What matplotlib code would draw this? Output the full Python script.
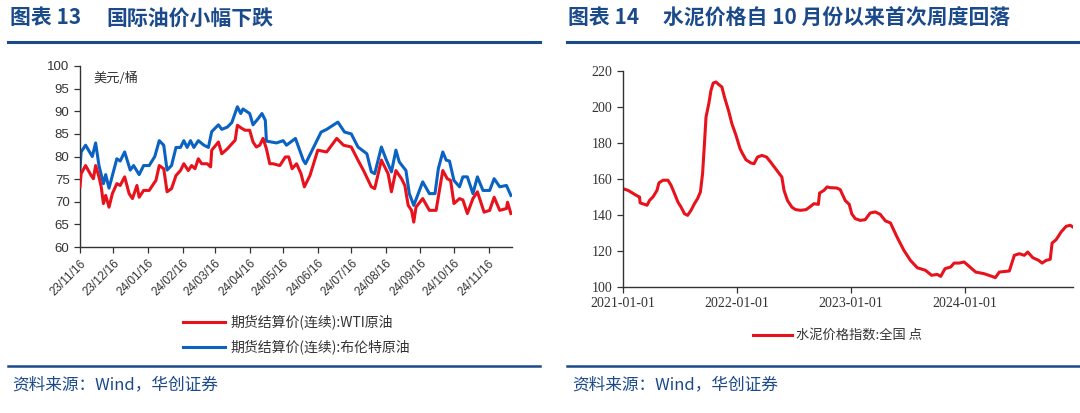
import numpy as np
import pandas as pd
import matplotlib
matplotlib.use("Agg")
import matplotlib.pyplot as plt
import matplotlib.dates as mdates
from matplotlib.lines import Line2D

plt.rcParams['font.family'] = ['Noto Sans CJK SC', 'DejaVu Sans']

# ── 国际油价 (美元/桶) ───────────────────────────────────────────
brent_dates = [
    '2023-11-16', '2023-11-17', '2023-11-21', '2023-11-27', '2023-11-30', '2023-12-03',
    '2023-12-07', '2023-12-09', '2023-12-12', '2023-12-19', '2023-12-22', '2023-12-26',
    '2023-12-31', '2024-01-03', '2024-01-08', '2024-01-12', '2024-01-17', '2024-01-22',
    '2024-01-26', '2024-01-30', '2024-02-02', '2024-02-06', '2024-02-10', '2024-02-14',
    '2024-02-17', '2024-02-20', '2024-02-23', '2024-02-26', '2024-03-01', '2024-03-06',
    '2024-03-10', '2024-03-13', '2024-03-19', '2024-03-22', '2024-03-27', '2024-03-31',
    '2024-04-05', '2024-04-08', '2024-04-10', '2024-04-16', '2024-04-19', '2024-04-24',
    '2024-04-27', '2024-04-30', '2024-05-01', '2024-05-10', '2024-05-16', '2024-05-19',
    '2024-05-27', '2024-06-03', '2024-06-05', '2024-06-19', '2024-06-24', '2024-07-04',
    '2024-07-10', '2024-07-16', '2024-07-22', '2024-07-30', '2024-08-03', '2024-08-06',
    '2024-08-12', '2024-08-16', '2024-08-21', '2024-08-25', '2024-08-28', '2024-09-03',
    '2024-09-06', '2024-09-10', '2024-09-14', '2024-09-18', '2024-09-24', '2024-09-29',
    '2024-10-02', '2024-10-06', '2024-10-09', '2024-10-12', '2024-10-16', '2024-10-21',
    '2024-10-24', '2024-10-28', '2024-11-02', '2024-11-06', '2024-11-11', '2024-11-17',
    '2024-11-21', '2024-11-26', '2024-12-02', '2024-12-06',
]
brent = [
    77.3, 81.0, 82.5, 80.0, 83.0, 78.0,
    74.0, 76.0, 73.0, 79.5, 79.0, 81.0,
    77.0, 78.0, 76.0, 78.0, 78.0, 80.0,
    83.5, 82.5, 77.0, 78.0, 82.0, 82.0,
    83.5, 82.0, 83.5, 82.0, 83.5, 82.5,
    82.0, 85.5, 87.0, 86.0, 86.5, 87.5,
    91.0, 89.5, 90.5, 89.5, 87.0, 88.5,
    89.5, 88.0, 83.4, 83.0, 83.5, 82.5,
    84.0, 79.2, 78.4, 85.4, 86.0, 87.6,
    85.4, 85.0, 82.1, 80.6, 76.6, 76.2,
    82.1, 79.5, 76.6, 81.4, 78.8, 76.9,
    71.8, 69.2, 71.8, 74.4, 71.8, 71.8,
    77.3, 81.0, 79.2, 79.0, 74.7, 73.3,
    75.5, 75.5, 71.8, 75.5, 72.5, 72.5,
    75.1, 73.3, 73.6, 71.4,
]

wti_dates = [
    '2023-11-16', '2023-11-17', '2023-11-21', '2023-11-26', '2023-11-28', '2023-11-30',
    '2023-12-03', '2023-12-05', '2023-12-07', '2023-12-09', '2023-12-12', '2023-12-15',
    '2023-12-19', '2023-12-22', '2023-12-26', '2023-12-30', '2024-01-02', '2024-01-06',
    '2024-01-08', '2024-01-12', '2024-01-17', '2024-01-21', '2024-01-23', '2024-01-26',
    '2024-01-30', '2024-02-02', '2024-02-06', '2024-02-10', '2024-02-14', '2024-02-17',
    '2024-02-21', '2024-02-24', '2024-02-27', '2024-03-01', '2024-03-04', '2024-03-09',
    '2024-03-12', '2024-03-13', '2024-03-19', '2024-03-22', '2024-03-27', '2024-03-31',
    '2024-04-03', '2024-04-05', '2024-04-09', '2024-04-12', '2024-04-16', '2024-04-19',
    '2024-04-22', '2024-04-25', '2024-04-28', '2024-05-01', '2024-05-04', '2024-05-07',
    '2024-05-13', '2024-05-18', '2024-05-21', '2024-05-24', '2024-05-28', '2024-06-01',
    '2024-06-04', '2024-06-09', '2024-06-16', '2024-06-24', '2024-07-03', '2024-07-09',
    '2024-07-16', '2024-07-22', '2024-07-27', '2024-08-03', '2024-08-06', '2024-08-12',
    '2024-08-18', '2024-08-21', '2024-08-25', '2024-08-30', '2024-09-02', '2024-09-05',
    '2024-09-08', '2024-09-10', '2024-09-12', '2024-09-18', '2024-09-24', '2024-09-30',
    '2024-10-04', '2024-10-06', '2024-10-10', '2024-10-13', '2024-10-16', '2024-10-21',
    '2024-10-24', '2024-10-28', '2024-11-02', '2024-11-06', '2024-11-12', '2024-11-17',
    '2024-11-21', '2024-11-26', '2024-12-02', '2024-12-03', '2024-12-06',
]
wti = [
    73.3, 76.2, 78.0, 75.8, 75.1, 78.0,
    75.5, 73.3, 69.6, 71.4, 68.8, 71.8,
    74.0, 73.6, 75.5, 71.8, 70.7, 73.6,
    71.0, 72.5, 72.5, 74.0, 74.7, 78.0,
    77.3, 72.2, 72.9, 75.8, 76.9, 78.4,
    76.9, 78.0, 77.3, 79.5, 78.4, 78.4,
    77.7, 81.4, 83.2, 80.6, 81.7, 82.8,
    83.6, 86.9, 86.2, 85.8, 85.8, 83.2,
    82.1, 82.5, 84.0, 81.7, 78.4, 78.4,
    78.0, 79.9, 79.9, 77.3, 78.4, 76.2,
    73.3, 75.8, 81.4, 81.0, 84.0, 82.5,
    82.1, 79.2, 76.9, 73.3, 72.9, 79.2,
    76.2, 72.2, 76.9, 75.1, 73.6, 69.2,
    68.1, 65.5, 68.8, 70.7, 68.1, 68.1,
    74.0, 76.9, 75.1, 74.7, 69.6, 70.7,
    70.4, 67.4, 70.7, 72.2, 67.7, 68.1,
    71.0, 68.1, 68.5, 69.9, 67.4,
]

# ── 水泥价格指数:全国 ─────────────────────────────────────────────
cement_dates = [
    '2021-01-01', '2021-01-17', '2021-02-07', '2021-02-18', '2021-02-23', '2021-02-25',
    '2021-03-11', '2021-03-19', '2021-03-27', '2021-04-07', '2021-04-20', '2021-04-26',
    '2021-05-09', '2021-05-25', '2021-06-04', '2021-06-15', '2021-06-26', '2021-07-06',
    '2021-07-17', '2021-07-27', '2021-08-07', '2021-08-18', '2021-08-28', '2021-09-06',
    '2021-09-13', '2021-09-19', '2021-09-24', '2021-10-03', '2021-10-10', '2021-10-17',
    '2021-10-26', '2021-11-03', '2021-11-14', '2021-11-22', '2021-12-05', '2021-12-16',
    '2021-12-29', '2022-01-11', '2022-01-19', '2022-01-30', '2022-02-15', '2022-02-25',
    '2022-03-08', '2022-03-22', '2022-04-06', '2022-04-19', '2022-05-05', '2022-05-25',
    '2022-06-01', '2022-06-12', '2022-06-26', '2022-07-08', '2022-07-24', '2022-08-11',
    '2022-08-25', '2022-09-05', '2022-09-19', '2022-09-23', '2022-10-07', '2022-10-17',
    '2022-10-26', '2022-11-17', '2022-11-28', '2022-12-14', '2022-12-27', '2023-01-04',
    '2023-01-15', '2023-01-31', '2023-02-16', '2023-03-04', '2023-03-20', '2023-04-05',
    '2023-04-22', '2023-05-08', '2023-05-29', '2023-06-20', '2023-07-11', '2023-08-02',
    '2023-08-28', '2023-09-17', '2023-10-05', '2023-10-16', '2023-10-30', '2023-11-17',
    '2023-11-28', '2023-12-14', '2023-12-30', '2024-01-15', '2024-02-05', '2024-03-03',
    '2024-03-25', '2024-04-08', '2024-04-21', '2024-05-23', '2024-06-08', '2024-06-24',
    '2024-07-10', '2024-07-21', '2024-08-06', '2024-08-25', '2024-09-05', '2024-09-18',
    '2024-10-01', '2024-10-07', '2024-10-20', '2024-11-05', '2024-11-21', '2024-12-04',
    '2024-12-13',
]
cement = [
    154.6, 153.7, 151.5, 150.4, 150.0, 146.7,
    145.9, 145.4, 148.1, 150.0, 153.7, 157.8,
    159.3, 159.3, 156.5, 151.9, 147.2, 144.4,
    140.7, 139.8, 142.6, 146.3, 149.1, 152.8,
    163.0, 179.6, 194.4, 201.9, 209.3, 213.3,
    213.9, 212.6, 211.1, 205.6, 198.1, 190.7,
    184.3, 176.9, 174.1, 170.7, 168.9, 168.5,
    172.2, 173.1, 172.2, 169.4, 165.7, 161.1,
    153.7, 148.1, 144.4, 143.0, 142.6, 143.0,
    144.8, 146.3, 145.9, 152.2, 153.7, 155.6,
    155.2, 155.0, 154.1, 148.1, 145.9, 140.7,
    138.0, 137.0, 137.4, 141.1, 141.7, 140.4,
    136.7, 135.6, 127.8, 120.4, 114.8, 110.7,
    109.3, 106.5, 107.0, 105.9, 110.2, 111.1,
    113.3, 113.3, 113.9, 111.5, 108.3, 107.4,
    106.1, 105.2, 108.3, 108.9, 117.6, 118.5,
    117.6, 119.4, 116.3, 114.8, 113.3, 114.8,
    115.4, 124.4, 126.3, 130.6, 133.7, 134.3,
    133.3,
]

oil_ticks = pd.date_range('2023-11-01', periods=13, freq='MS') + pd.Timedelta(days=15)
cement_ticks = pd.to_datetime(['2021-01-01', '2022-01-01', '2023-01-01', '2024-01-01'])

NAVY = '#1B4A8A'
RED = '#E8121C'
BLUE = '#0A62C2'
W, H = 1080, 413

fig = plt.figure(figsize=(W / 100, H / 100), dpi=100)


def fx(px):
    return px / W


def fy(py):
    return 1 - py / H


# ── headers / footers ──
for x_lab, lab, x_txt, txt in [(10, '图表 13', 106, '国际油价小幅下跌'),
                              (568, '图表 14', 663, '水泥价格自 10 月份以来首次周度回落')]:
    fig.text(fx(x_lab), fy(18), lab, fontsize=15, fontweight='bold',
             color=NAVY, va='center', ha='left')
    fig.text(fx(x_txt), fy(18), txt, fontsize=15, fontweight='bold',
             color=NAVY, va='center', ha='left')
for x0, x1 in [(8, 540), (567, 1080)]:
    fig.add_artist(Line2D([fx(x0), fx(x1)], [fy(42)] * 2, color=NAVY, lw=2.2))
    fig.add_artist(Line2D([fx(x0), fx(x1)], [fy(366)] * 2, color=NAVY, lw=1.8))
fig.text(fx(12), fy(385), '资料来源：Wind，华创证券', fontsize=12, style='italic',
         color=NAVY, va='center', ha='left')
fig.text(fx(572), fy(385), '资料来源：Wind，华创证券', fontsize=12, style='italic',
         color=NAVY, va='center', ha='left')

# ── left: oil ──
ax1 = fig.add_axes([fx(80), fy(247), fx(512 - 80), (247 - 66) / H])
ax1.plot(pd.to_datetime(wti_dates), wti, color=RED, lw=2.2, zorder=3)
ax1.plot(pd.to_datetime(brent_dates), brent, color=BLUE, lw=2.2, zorder=2)
ax1.set_ylim(60, 100)
ax1.set_yticks(np.arange(60, 101, 5))
ax1.set_xlim(pd.Timestamp('2023-11-16'), pd.Timestamp('2024-12-07'))
ax1.set_xticks(oil_ticks)
ax1.xaxis.set_major_formatter(mdates.DateFormatter('%y/%m/%d'))
for s in ['top', 'right']:
    ax1.spines[s].set_visible(False)
for s in ['left', 'bottom']:
    ax1.spines[s].set_color('#333333')
    ax1.spines[s].set_linewidth(1.0)
ax1.tick_params(axis='both', direction='out', length=4, width=0.9, color='#333333')
for lab in ax1.get_yticklabels():
    lab.set_fontfamily('Liberation Sans')
    lab.set_fontsize(9.5)
    lab.set_color('#333333')
for lab in ax1.get_xticklabels():
    lab.set_fontfamily('Liberation Sans')
    lab.set_fontsize(8.5)
    lab.set_rotation(45)
    lab.set_ha('right')
    lab.set_rotation_mode('anchor')
    lab.set_color('#333333')
ax1.text(0.03, 0.965, '美元/桶', transform=ax1.transAxes, fontsize=9.5,
         color='#333333', va='top', ha='left')

# legend (left)
for py, col, label in [(322, RED, '期货结算价(连续):WTI原油'),
                       (347, BLUE, '期货结算价(连续):布伦特原油')]:
    fig.add_artist(Line2D([fx(183), fx(225)], [fy(py)] * 2, color=col, lw=2.2))
    fig.text(fx(230), fy(py), label, fontsize=10, color='#333333', va='center', ha='left')

# ── right: cement ──
ax2 = fig.add_axes([fx(623), fy(287), fx(1073 - 623), (287 - 71) / H])
ax2.plot(pd.to_datetime(cement_dates), cement, color=RED, lw=2.2)
ax2.set_ylim(100, 220)
ax2.set_yticks(np.arange(100, 221, 20))
ax2.set_xlim(pd.Timestamp('2021-01-01'), pd.Timestamp('2024-12-13'))
ax2.set_xticks(cement_ticks)
ax2.xaxis.set_major_formatter(mdates.DateFormatter('%Y-%m-%d'))
for s in ['top', 'right']:
    ax2.spines[s].set_visible(False)
for s in ['left', 'bottom']:
    ax2.spines[s].set_color('#333333')
    ax2.spines[s].set_linewidth(1.0)
ax2.tick_params(axis='both', direction='out', length=4, width=0.9, color='#333333')
for lab in ax2.get_yticklabels() + ax2.get_xticklabels():
    lab.set_fontfamily('Liberation Serif')
    lab.set_fontsize(10)
    lab.set_color('#333333')

fig.add_artist(Line2D([fx(753), fx(792)], [fy(335)] * 2, color=RED, lw=2.2))
fig.text(fx(796), fy(335), '水泥价格指数:全国 点', fontsize=9.5, color='#333333',
         va='center', ha='left')

fig.savefig('out.png', dpi=100)
